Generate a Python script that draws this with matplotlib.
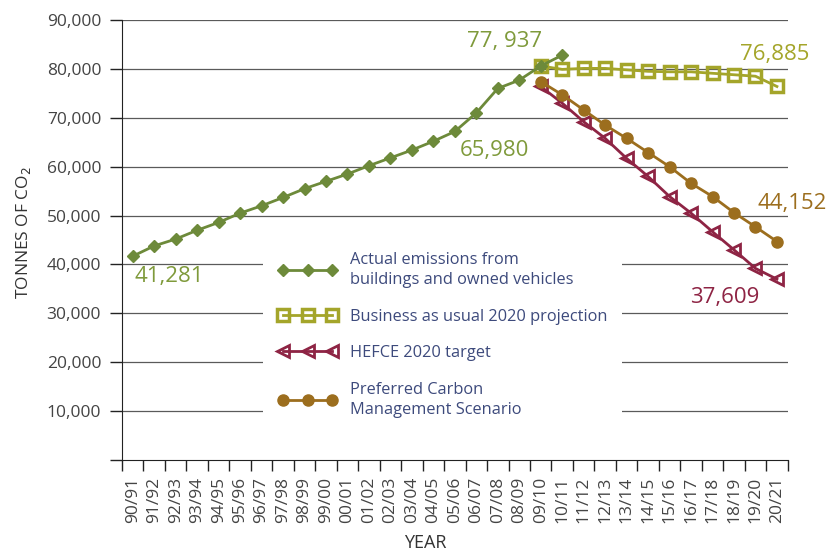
import matplotlib.pyplot as plt
from matplotlib.ticker import FuncFormatter, FixedLocator

plt.rcParams['font.family'] = ['Open Sans', 'DejaVu Sans']

years = ['90/91', '91/92', '92/93', '93/94', '94/95', '95/96', '96/97', '97/98',
         '98/99', '99/00', '00/01', '01/02', '02/03', '03/04', '04/05', '05/06',
         '06/07', '07/08', '08/09', '09/10', '10/11', '11/12', '12/13', '13/14',
         '14/15', '15/16', '16/17', '17/18', '18/19', '19/20', '20/21']

actual = [41700, 43800, 45200, 47000, 48600, 50500, 52000, 53700, 55500, 57000,
          58500, 60200, 61800, 63400, 65200, 67200, 71000, 76000, 77700, 80600, 82800]
bau = [80600, 79900, 80100, 80100, 79800, 79500, 79400, 79400, 79100, 78800, 78500, 76400]
hefce = [76400, 73000, 69200, 65800, 61700, 58000, 53900, 50500, 46700, 43000, 39200, 37000]
preferred = [77400, 74700, 71600, 68500, 65800, 62900, 60000, 56600, 53900, 50600, 47700, 44700]

c_actual = '#6d8a3a'
c_bau = '#a4a52a'
c_hefce = '#8e2444'
c_pref = '#9c6e1e'
c_legend = '#3d4a7c'

x_actual = list(range(len(actual)))
x_proj = list(range(19, 31))

fig = plt.figure(figsize=(8.3, 5.55), dpi=100)
ax = fig.add_axes([0.147, 0.171, 0.802, 0.793])

# grid lines behind everything
for v in range(10000, 90001, 10000):
    ax.axhline(v, color='#5a5a5a', lw=0.9, zorder=0)

ax.plot(x_actual, actual, color=c_actual, lw=2, marker='D', ms=6.5, zorder=3,
        label='Actual emissions from\nbuildings and owned vehicles')
ax.plot(x_proj, bau, color=c_bau, lw=2, marker='s', ms=9, mfc='none', mew=2.5, zorder=2,
        label='Business as usual 2020 projection')
ax.plot(x_proj, hefce, color=c_hefce, lw=2, marker='<', ms=9, mfc='none', mew=2, zorder=2,
        label='HEFCE 2020 target')
ax.plot(x_proj, preferred, color=c_pref, lw=2, marker='o', ms=8, zorder=2,
        label='Preferred Carbon\nManagement Scenario')

ax.set_xlim(-0.5, 30.5)
ax.set_ylim(0, 90000)

ax.spines['top'].set_visible(False)
ax.spines['right'].set_visible(False)
ax.spines['left'].set_color('#222222')
ax.spines['bottom'].set_color('#222222')

ax.yaxis.set_major_locator(FixedLocator(range(0, 90001, 10000)))
ax.yaxis.set_major_formatter(FuncFormatter(lambda v, p: '' if v == 0 else f'{int(v):,}'))
ax.tick_params(axis='y', length=9, width=1, color='#222222', labelsize=12.5,
               labelcolor='#444444', pad=6)

ax.set_xticks(range(len(years)))
ax.set_xticklabels(years, rotation=90, fontsize=12.5, color='#444444')
ax.set_xticks([i - 0.5 for i in range(len(years) + 1)], minor=True)
ax.tick_params(axis='x', which='major', length=0, pad=12)
ax.tick_params(axis='x', which='minor', length=8, width=1, color='#222222')

ax.set_ylabel('TONNES OF CO$_2$', fontsize=12.5, color='#333333')
ax.yaxis.set_label_coords(-0.134, 0.518)
ax.set_xlabel('YEAR', fontsize=13, color='#333333')
ax.xaxis.set_label_coords(0.455, -0.168)

leg = ax.legend(loc='upper left', bbox_to_anchor=(0.2, 0.525), frameon=True,
                facecolor='white', edgecolor='none', framealpha=1, numpoints=3,
                handlelength=3.6, fontsize=11.8, labelcolor=c_legend,
                labelspacing=1.25, borderpad=0.9, handletextpad=0.8)
for t in leg.get_texts():
    t.set_linespacing(1.35)
leg.set_zorder(1)

ax.text(0.1, 37600, '41,281', color='#7f9a3b', fontsize=16, va='center')
ax.text(15.56, 85500, '77, 937', color='#7f9a3b', fontsize=16, va='center')
ax.text(15.24, 63400, '65,980', color='#7f9a3b', fontsize=16, va='center')
ax.text(28.27, 82840, '76,885', color=c_bau, fontsize=16, va='center', clip_on=False)
ax.text(29.11, 52570, '44,152', color=c_pref, fontsize=16, va='center', clip_on=False)
ax.text(25.94, 33340, '37,609', color=c_hefce, fontsize=16, va='center')

fig.savefig('out.png', dpi=100)
